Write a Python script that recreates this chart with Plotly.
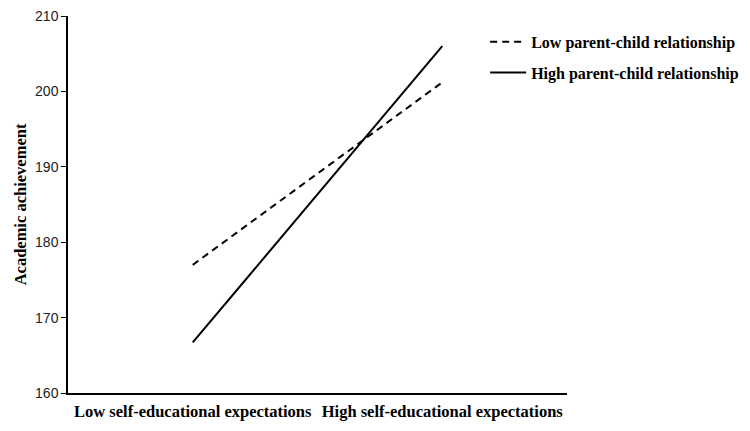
import plotly.graph_objects as go

categories = ["Low self-educational expectations", "High self-educational expectations"]
low_pcr = [177.0, 201.2]
high_pcr = [166.7, 206.0]
y_ticks = [160, 170, 180, 190, 200, 210]

serif = "Liberation Serif"
x_idx = [0, 1]

fig = go.Figure()
fig.add_trace(go.Scatter(
    x=x_idx, y=low_pcr, mode="lines", name="<b>Low parent-child relationship</b>",
    line=dict(color="black", width=2, dash="7px,5px"), legendgroup="a"))
fig.add_trace(go.Scatter(
    x=x_idx, y=high_pcr, mode="lines", name="<b>High parent-child relationship</b>",
    line=dict(color="black", width=2), legendgroup="b"))

fig.update_layout(
    width=770, height=431,
    margin=dict(l=60, r=211, t=8, b=46),
    paper_bgcolor="white", plot_bgcolor="white",
    showlegend=True,
    legend=dict(x=0.822, y=0.995, xanchor="left", yanchor="top",
                font=dict(family=serif, size=16, color="black"),
                bgcolor="rgba(0,0,0,0)", bordercolor="rgba(0,0,0,0)", borderwidth=7,
                tracegroupgap=7, itemwidth=36),
    xaxis=dict(range=[-0.5, 1.5], tickvals=x_idx,
               ticktext=["<b>" + c + "</b>" for c in categories],
               tickfont=dict(family=serif, size=16.5, color="black"),
               showline=True, linecolor="black", linewidth=1.5,
               showgrid=False, zeroline=False, ticks="", automargin=False,
               ticklabelstandoff=2),
    yaxis=dict(range=[160, 210], tickvals=y_ticks,
               tickfont=dict(family="Liberation Sans", size=14, color="#222"),
               showline=True, linecolor="black", linewidth=1.5,
               showgrid=False, zeroline=False, ticks="outside", ticklen=5,
               tickcolor="black", automargin=False, ticklabeloverflow="allow",
               title=dict(text="<b>Academic achievement</b>",
                          font=dict(family=serif, size=16.5, color="black"),
                          standoff=4)),
)

fig.write_html("out.html")
